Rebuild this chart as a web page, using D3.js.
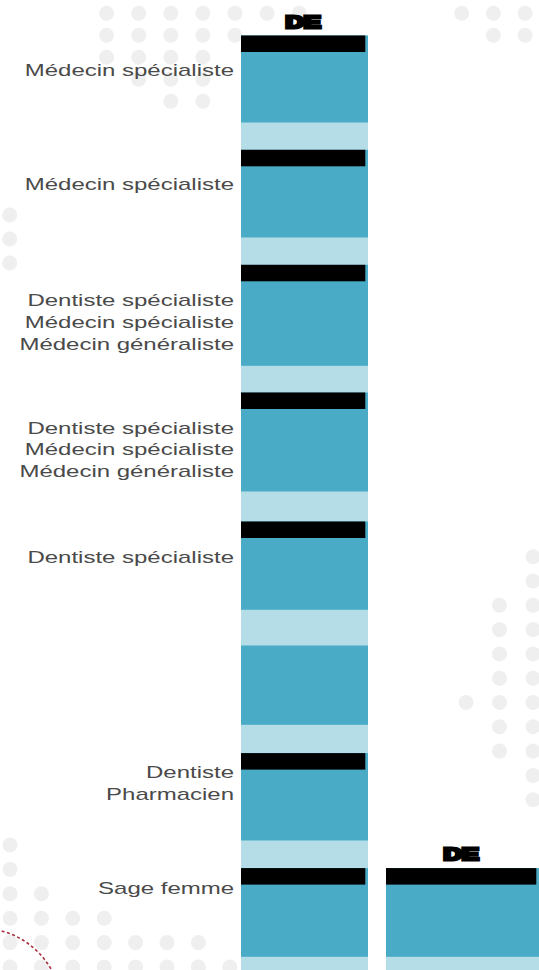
<!DOCTYPE html>
<html>
<head>
<meta charset="utf-8">
<script src="https://cdn.jsdelivr.net/npm/d3@7"></script>
<style>
  body { margin: 0; background: #fff; }
  svg { display: block; }
</style>
</head>
<body>
<div class="chart"></div>
<script>
const width = 539;
const height = 970;

// column headers
const columnTitles = ["DE", "DE"];

// one row per block, top to bottom
const rowLabels = [
  ["Médecin spécialiste"],
  ["Médecin spécialiste"],
  ["Dentiste spécialiste", "Médecin spécialiste", "Médecin généraliste"],
  ["Dentiste spécialiste", "Médecin spécialiste", "Médecin généraliste"],
  ["Dentiste spécialiste"],
  [],
  ["Dentiste", "Pharmacien"],
  ["Sage femme"]
];
const rowHasDE = [true, true, true, true, true, false, true, true];
const blockHeights = [87, 87.7, 101, 99, 88.3, 79.3, 87.4, 88.7];
const gapHeights = [27.3, 27.3, 26.7, 30, 35.7, 28.3, 27.6, 27];
const secondColumnRows = [false, false, false, false, false, false, false, true];

// layout
const top0 = 35.5;
const colX = [241, 386];
const colW = [127, 153];
const capH = 16.5;
const capInset = 2.7;
const labelRight = 234;
const stretch = 1.5;   // text in the picture is drawn wide
const lineH = 21.7;
const labelDrop = [40, 40.5, 41.5, 41.3, 41, 0, 25, 25.5];

const teal = "#4aabc6";
const light = "#b4dde8";
const ink = "#4a4a4a";

// background dot pattern (decoration)
const dotClusters = [
  {x: 106.6, y: 13.3, dx: 32.1, dy: 22, rows: ["1111111", "11111", "1111", ".111", "..11"]},
  {x: 461.7, y: 13.3, dx: 31.7, dy: 22, rows: ["111", ".11"]},
  {x: 9.6, y: 215, dx: 31, dy: 24, rows: ["1", "1", "1"]},
  {x: 466, y: 556.7, dx: 33.5, dy: 24.3, rows: ["..1", "..1", ".11", ".11", ".11", ".11", "111", ".11", ".11", "..1", "..1"]},
  {x: 10, y: 845, dx: 31.4, dy: 24.4, rows: ["1", "1", "11", "1111", "1111111", "11111111"]}
];

const starts = rowLabels.map((d, i) =>
  d3.sum(blockHeights.slice(0, i)) + d3.sum(gapHeights.slice(0, i)));
const total = d3.sum(blockHeights) + d3.sum(gapHeights);

const y = d3.scaleLinear()
  .domain([0, total])
  .range([top0, top0 + total]);

const rows = rowLabels.map((labels, i) => ({
  i: i, labels: labels, de: rowHasDE[i], start: starts[i], size: blockHeights[i]
}));

const columns = [
  {x: colX[0], w: colW[0], title: columnTitles[0], rows: rows},
  {x: colX[1], w: colW[1], title: columnTitles[1], rows: rows.filter(r => secondColumnRows[r.i])}
];

const svg = d3.select(".chart")
  .append("svg")
  .attr("width", width)
  .attr("height", height)
  .style("background", "#fff");

// DOTS
const dots = [];
dotClusters.forEach(c => {
  c.rows.forEach((r, j) => {
    r.split("").forEach((ch, k) => {
      if (ch === "1") dots.push({x: c.x + k * c.dx, y: c.y + j * c.dy});
    });
  });
});

svg.append("g")
  .selectAll("circle")
  .data(dots)
  .enter()
  .append("circle")
  .attr("cx", d => d.x)
  .attr("cy", d => d.y)
  .attr("r", 7.5)
  .attr("fill", "#efefef");

// red dashed arc, bottom left
const p = d3.path();
p.arc(-20, 1010, 82, -Math.PI / 2, 0);
svg.append("path")
  .attr("d", p.toString())
  .attr("fill", "none")
  .attr("stroke", "#a8323f")
  .attr("stroke-width", 1.6)
  .attr("stroke-dasharray", "3,2.5");

// COLUMNS
columns.forEach(col => {
  const g = svg.append("g");
  const first = col.rows[0];

  g.append("rect")
    .attr("x", col.x)
    .attr("y", y(first.start))
    .attr("width", col.w)
    .attr("height", y(total) - y(first.start))
    .attr("fill", light);

  g.selectAll(".block")
    .data(col.rows)
    .enter()
    .append("rect")
    .attr("class", "block")
    .attr("x", col.x)
    .attr("y", d => y(d.start))
    .attr("width", col.w)
    .attr("height", d => y(d.start + d.size) - y(d.start))
    .attr("fill", teal);

  g.selectAll(".cap")
    .data(col.rows.filter(d => d.de))
    .enter()
    .append("rect")
    .attr("class", "cap")
    .attr("x", col.x)
    .attr("y", d => y(d.start))
    .attr("width", col.w - capInset)
    .attr("height", capH)
    .attr("fill", "#000");

  const cx = col.x + (col.w - capInset) / 2;
  g.append("text")
    .attr("transform", `translate(${cx},${y(first.start) - 13.5}) scale(${stretch},1)`)
    .attr("text-anchor", "middle")
    .attr("dominant-baseline", "central")
    .attr("font-family", "'Liberation Sans', Arial, sans-serif")
    .attr("font-weight", "bold")
    .attr("font-size", 17)
    .attr("fill", "#000")
    .attr("stroke", "#000")
    .attr("stroke-width", 3)
    .text(col.title);
});

// LABELS
const lab = svg.append("g")
  .selectAll("g")
  .data(rows.filter(d => d.labels.length))
  .enter()
  .append("g")
  .attr("transform", d => `translate(${labelRight},${y(d.start) + labelDrop[d.i]}) scale(${stretch},1)`);

lab.selectAll("text")
  .data(d => d.labels)
  .enter()
  .append("text")
  .attr("x", 0)
  .attr("y", (d, k) => k * lineH)
  .attr("text-anchor", "end")
  .attr("font-family", "'Liberation Sans', Arial, sans-serif")
  .attr("font-size", 16)
  .attr("fill", ink)
  .text(d => d);
</script>
</body>
</html>
